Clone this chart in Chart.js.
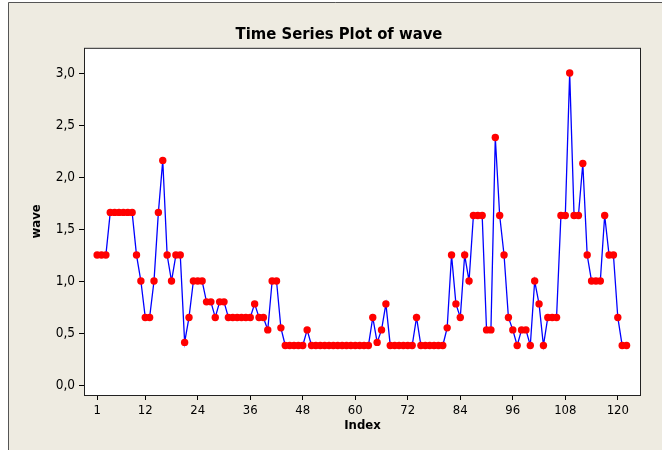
<!doctype html>
<html>

<head>
	<title>Time Series Plot of wave</title>
	<script src="https://cdn.jsdelivr.net/npm/chart.js@4/dist/chart.umd.min.js"></script>
	<style>
	html, body {
		margin: 0;
		padding: 0;
		background: #fff;
	}
	</style>
</head>

<body>
	<canvas id="canvas" width="662" height="450"></canvas>
	<script>
		// wave values, one per index (1..122)
		const waveValues = [
			1.25, 1.25, 1.25, 1.66, 1.66, 1.66, 1.66, 1.66, 1.66, 1.25,
			1.0, 0.65, 0.65, 1.0, 1.66, 2.16, 1.25, 1.0, 1.25, 1.25,
			0.41, 0.65, 1.0, 1.0, 1.0, 0.80, 0.80, 0.65, 0.80, 0.80,
			0.65, 0.65, 0.65, 0.65, 0.65, 0.65, 0.78, 0.65, 0.65, 0.53,
			1.0, 1.0, 0.55, 0.38, 0.38, 0.38, 0.38, 0.38, 0.53, 0.38,
			0.38, 0.38, 0.38, 0.38, 0.38, 0.38, 0.38, 0.38, 0.38, 0.38,
			0.38, 0.38, 0.38, 0.65, 0.41, 0.53, 0.78, 0.38, 0.38, 0.38,
			0.38, 0.38, 0.38, 0.65, 0.38, 0.38, 0.38, 0.38, 0.38, 0.38,
			0.55, 1.25, 0.78, 0.65, 1.25, 1.0, 1.63, 1.63, 1.63, 0.53,
			0.53, 2.38, 1.63, 1.25, 0.65, 0.53, 0.38, 0.53, 0.53, 0.38,
			1.0, 0.78, 0.38, 0.65, 0.65, 0.65, 1.63, 1.63, 3.0, 1.63,
			1.63, 2.13, 1.25, 1.0, 1.0, 1.0, 1.63, 1.25, 1.25, 0.65,
			0.38, 0.38
		];
		const xTickValues = [1, 12, 24, 36, 48, 60, 72, 84, 96, 108, 120];
		const yTickValues = [0, 0.5, 1, 1.5, 2, 2.5, 3];

		const fontFamily = "'DejaVu Sans Condensed', 'DejaVu Sans', sans-serif";

		// beige panel, outer frame, white plot area and its box
		const minitabFrame = {
			id: 'minitabFrame',
			beforeDraw(chart) {
				const {ctx, chartArea: a, width, height} = chart;
				ctx.save();
				ctx.fillStyle = '#ffffff';
				ctx.fillRect(0, 0, width, height);
				ctx.fillStyle = '#eeebe1';
				ctx.fillRect(8, 2, width - 8, height - 2);
				ctx.strokeStyle = '#555555';
				ctx.lineWidth = 1;
				ctx.beginPath();
				ctx.moveTo(8.5, height);
				ctx.lineTo(8.5, 2.5);
				ctx.lineTo(width, 2.5);
				ctx.stroke();
				ctx.fillStyle = '#ffffff';
				ctx.fillRect(a.left, a.top, a.right - a.left, a.bottom - a.top);
				ctx.restore();
			},
			afterDraw(chart) {
				const {ctx, chartArea: a} = chart;
				ctx.save();
				ctx.strokeStyle = '#222222';
				ctx.lineWidth = 1;
				ctx.strokeRect(a.left + 0.5, a.top + 0.5, a.right - a.left - 1, a.bottom - a.top);
				ctx.restore();
			}
		};

		window.onload = function() {
			const ctx = document.getElementById('canvas').getContext('2d');
			window.wavePlot = new Chart(ctx, {
				type: 'line',
				data: {
					datasets: [{
						label: 'wave',
						data: waveValues.map((v, i) => ({x: i + 1, y: v})),
						borderColor: '#0000ff',
						borderWidth: 1.3,
						pointRadius: 3.7,
						pointBackgroundColor: '#ff0000',
						pointBorderColor: '#ff0000',
						pointBorderWidth: 0,
						tension: 0
					}]
				},
				options: {
					responsive: false,
					animation: false,
					layout: {
						padding: {left: 37, right: 21, top: 0, bottom: 0}
					},
					plugins: {
						legend: {display: false},
						tooltip: {enabled: false},
						title: {
							display: true,
							text: 'Time Series Plot of wave',
							color: '#000',
							font: {family: fontFamily, size: 16.5, weight: 'bold'},
							padding: {top: 25, bottom: 3}
						}
					},
					scales: {
						x: {
							type: 'linear',
							min: -2,
							max: 125.3,
							afterBuildTicks(scale) {
								scale.ticks = xTickValues.map(v => ({value: v}));
							},
							afterFit(scale) {
								scale.height = 55;
							},
							border: {display: false},
							grid: {drawOnChartArea: false, tickLength: 5, color: '#000'},
							ticks: {
								autoSkip: false,
								maxRotation: 0,
								padding: 3,
								color: '#000',
								font: {family: fontFamily, size: 13},
								callback: v => String(v)
							},
							title: {
								display: true,
								text: 'Index',
								color: '#000',
								font: {family: fontFamily, size: 13, weight: 'bold'},
								padding: {top: 0, bottom: 17}
							}
						},
						y: {
							min: -0.096,
							max: 3.243,
							afterBuildTicks(scale) {
								scale.ticks = yTickValues.map(v => ({value: v}));
							},
							afterFit(scale) {
								scale.width = 47;
							},
							border: {display: false},
							grid: {drawOnChartArea: false, tickLength: 5, color: '#000'},
							ticks: {
								padding: 4,
								color: '#000',
								font: {family: fontFamily, size: 13.5},
								callback: v => v.toFixed(1).replace('.', ',')
							},
							title: {
								display: true,
								text: 'wave',
								color: '#000',
								font: {family: fontFamily, size: 13, weight: 'bold'},
								padding: {top: -8, bottom: 0}
							}
						}
					}
				},
				plugins: [minitabFrame]
			});
		};
	</script>
</body>

</html>
